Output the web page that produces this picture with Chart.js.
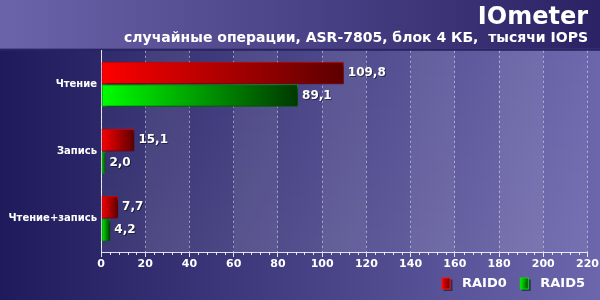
<!DOCTYPE html>
<html>
<head>
<meta charset="utf-8">
<script src="https://cdn.jsdelivr.net/npm/chart.js@4.4.1/dist/chart.umd.min.js"></script>
<style>
  html, body { margin: 0; padding: 0; background: #2a2462; }
</style>
</head>
<body>
<canvas id="chart" width="600" height="300"></canvas>
<script>
// data
const categories = ['Чтение', 'Запись', 'Чтение+запись'];
const seriesNames = ['RAID0', 'RAID5'];
const raid0 = [109.8, 15.1, 7.7];
const raid5 = [89.1, 2.0, 4.2];
const xMin = 0, xMax = 220, xStep = 20;

const FONT = 'DejaVu Sans';
const fmt = v => v.toFixed(1).replace('.', ',');

// horizontal gradient from bar base to bar end
function barFill(c0, c1) {
    return function (ctx) {
        const chart = ctx.chart;
        const x = chart.scales.x;
        if (!chart.chartArea || !x || ctx.type !== 'data') return c0;
        const x0 = x.getPixelForValue(0);
        const x1 = x.getPixelForValue(ctx.raw);
        const g = chart.ctx.createLinearGradient(x0, 0, Math.max(x1, x0 + 1), 0);
        g.addColorStop(0, c0);
        g.addColorStop(1, c1);
        return g;
    };
}

// small gradient box for the legend, with blank margin on the left
function legendSwatch(c0, c1, stroke) {
    const cv = document.createElement('canvas');
    cv.width = 24;
    cv.height = 14;
    const g = cv.getContext('2d');
    g.fillStyle = 'rgba(0,0,0,0.45)';
    g.fillRect(12, 3, 9, 11);
    const gr = g.createLinearGradient(10, 0, 19, 0);
    gr.addColorStop(0, c0);
    gr.addColorStop(1, c1);
    g.fillStyle = gr;
    g.fillRect(10, 1, 9, 12);
    g.strokeStyle = stroke;
    g.lineWidth = 1;
    g.strokeRect(10.5, 1.5, 8, 11);
    return cv;
}
const swatches = [
    legendSwatch('#ff0000', '#600000', '#ff1010'),
    legendSwatch('#00ff00', '#004000', '#00e000')
];

// background, header band and plot stripes
const backdrop = {
    id: 'backdrop',
    beforeDraw(chart) {
        const { ctx, chartArea: a, width: W, height: H } = chart;
        const x = chart.scales.x;
        ctx.save();
        let g = ctx.createLinearGradient(0, 0, W, 0);
        g.addColorStop(0, '#1f1a5b');
        g.addColorStop(1, '#6c67ad');
        ctx.fillStyle = g;
        ctx.fillRect(0, 0, W, H);

        g = ctx.createLinearGradient(0, 0, W, 0);
        g.addColorStop(0, '#6b64aa');
        g.addColorStop(1, '#2a2264');
        ctx.fillStyle = g;
        ctx.fillRect(0, 0, W, a.top - 2);
        ctx.fillStyle = '#2a2462';
        ctx.fillRect(0, a.top - 2, W, 2);

        // plot area, lighter towards the bottom
        g = ctx.createLinearGradient(0, a.top, 0, a.bottom);
        g.addColorStop(0, 'rgba(255,255,255,0.02)');
        g.addColorStop(1, 'rgba(255,255,255,0.08)');
        ctx.fillStyle = g;
        ctx.fillRect(a.left, a.top, a.right - a.left, a.bottom - a.top);

        const ticks = x.ticks;
        ctx.fillStyle = 'rgba(255,255,255,0.07)';
        for (let i = 1; i + 1 < ticks.length; i += 2) {
            const l = x.getPixelForValue(ticks[i].value);
            const r = x.getPixelForValue(ticks[i + 1].value);
            ctx.fillRect(l, a.top, r - l, a.bottom - a.top);
        }
        ctx.restore();
    },
    afterDraw(chart) {
        // minor ticks under the x axis
        const { ctx, chartArea: a } = chart;
        const x = chart.scales.x;
        const ticks = x.ticks;
        ctx.save();
        ctx.strokeStyle = 'rgba(255,255,255,0.85)';
        ctx.lineWidth = 1;
        ctx.beginPath();
        for (let i = 0; i + 1 < ticks.length; i++) {
            const step = (ticks[i + 1].value - ticks[i].value) / 5;
            for (let k = 1; k < 5; k++) {
                const px = Math.round(x.getPixelForValue(ticks[i].value + k * step)) + 0.5;
                ctx.moveTo(px, a.bottom);
                ctx.lineTo(px, a.bottom + 3);
            }
        }
        ctx.stroke();
        ctx.restore();
    }
};

// bar shadow and value labels
const barExtras = {
    id: 'barExtras',
    beforeDatasetsDraw(chart) {
        const c = chart.ctx;
        c.save();
        c.shadowColor = 'rgba(0,0,0,0.55)';
        c.shadowOffsetX = 3;
        c.shadowOffsetY = 2;
        c.shadowBlur = 3;
    },
    afterDatasetsDraw(chart) {
        const c = chart.ctx;
        c.restore();
        c.save();
        c.font = 'bold 12px "' + FONT + '"';
        c.fillStyle = '#ffffff';
        c.textAlign = 'left';
        c.textBaseline = 'middle';
        c.shadowColor = 'rgba(0,0,0,0.5)';
        c.shadowOffsetX = 1;
        c.shadowOffsetY = 1;
        chart.data.datasets.forEach((ds, di) => {
            chart.getDatasetMeta(di).data.forEach((bar, i) => {
                c.fillText(fmt(ds.data[i]), bar.x + 4, bar.y);
            });
        });
        c.restore();
    }
};

new Chart(document.getElementById('chart'), {
    type: 'bar',
    data: {
        labels: categories,
        datasets: [{
            label: seriesNames[0],
            data: raid0,
            backgroundColor: barFill('#ff0000', '#5c0000'),
            borderColor: '#d00000',
            borderWidth: 1,
            borderSkipped: false
        }, {
            label: seriesNames[1],
            data: raid5,
            backgroundColor: barFill('#00ff00', '#003800'),
            borderColor: '#00b000',
            borderWidth: 1,
            borderSkipped: false
        }]
    },
    options: {
        indexAxis: 'y',
        responsive: false,
        animation: false,
        categoryPercentage: 0.67,
        barPercentage: 1,
        layout: { padding: { left: 0, right: 12, top: 0, bottom: 0 } },
        scales: {
            x: {
                min: xMin,
                max: xMax,
                afterFit(scale) { scale.height = 22; },
                ticks: {
                    stepSize: xStep,
                    color: '#ffffff',
                    padding: 1,
                    maxRotation: 0,
                    font: { family: FONT, size: 11, weight: 'bold' }
                },
                grid: {
                    color: 'rgba(255,255,255,0.5)',
                    tickColor: 'rgba(255,255,255,0.85)',
                    tickLength: 5,
                    tickBorderDash: []
                },
                border: { color: 'rgba(255,255,255,0.85)', width: 1, dash: [2, 3] }
            },
            y: {
                afterFit(scale) { scale.width = 101; },
                ticks: {
                    color: '#ffffff',
                    padding: 4,
                    font: { family: FONT, size: 10, weight: 'bold' }
                },
                grid: { display: false, drawTicks: false },
                border: { color: 'rgba(255,255,255,0.85)', width: 1 }
            }
        },
        plugins: {
            title: {
                display: true,
                text: 'IOmeter',
                align: 'end',
                color: '#ffffff',
                padding: { top: 3, bottom: 0 },
                font: { family: FONT, size: 24, weight: 'bold' }
            },
            subtitle: {
                display: true,
                text: 'случайные операции, ASR-7805, блок 4 КБ,  тысячи IOPS',
                align: 'end',
                color: '#ffffff',
                padding: { top: 0, bottom: 5 },
                font: { family: FONT, size: 14, weight: 'bold', lineHeight: 1 }
            },
            legend: {
                display: true,
                position: 'bottom',
                align: 'end',
                labels: {
                    color: '#ffffff',
                    usePointStyle: true,
                    pointStyleWidth: 24,
                    boxHeight: 13,
                    padding: 3,
                    font: { family: FONT, size: 13, weight: 'bold' },
                    generateLabels(chart) {
                        return chart.data.datasets.map((ds, i) => ({
                            text: ds.label,
                            pointStyle: swatches[i],
                            fillStyle: 'transparent',
                            strokeStyle: 'transparent',
                            lineWidth: 0,
                            fontColor: '#ffffff',
                            hidden: !chart.isDatasetVisible(i),
                            datasetIndex: i
                        }));
                    }
                }
            },
            tooltip: { enabled: false }
        }
    },
    plugins: [backdrop, barExtras]
});
</script>
</body>
</html>
